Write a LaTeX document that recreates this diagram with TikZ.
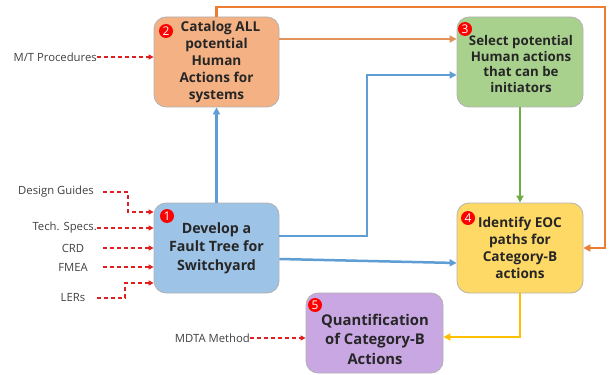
\documentclass[tikz,border=0pt]{standalone}
\usepackage{fontspec}
\setmainfont{Open Sans}
\usetikzlibrary{arrows.meta}
\definecolor{cOr}{HTML}{F4B183}
\definecolor{cGr}{HTML}{A9D18E}
\definecolor{cBl}{HTML}{9DC3E6}
\definecolor{cYe}{HTML}{FFD966}
\definecolor{cPu}{HTML}{C9A7E2}
\definecolor{lOr}{HTML}{ED7D31}
\definecolor{lOr2}{HTML}{E0925A}
\definecolor{lBl}{HTML}{5F9DD5}
\definecolor{lGr}{HTML}{70AD47}
\definecolor{lYe}{HTML}{FFC000}
\definecolor{lRd}{HTML}{E02020}
\definecolor{txtg}{HTML}{404040}
\tikzset{
  box/.style={draw=black!30, line width=0.8pt, rounded corners=12pt, align=center,
    font=\bfseries\fontsize{13.6}{17}\selectfont, text=black!85, inner sep=2pt},
  boxtext/.style={align=center, text=black!85, inner sep=0pt},
  badge/.style={circle, fill=red, text=white, inner sep=0pt, minimum size=14pt,
    font=\fontsize{12}{12}\selectfont},
  flow/.style={line width=2.5pt, -{Triangle[length=7pt,width=7pt]}},
  inp/.style={draw=lRd, line width=1.1pt, dash pattern=on 4pt off 3pt, -{Triangle[length=5pt,width=5pt]}},
  lab/.style={font=\fontsize{11.3}{13}\selectfont, text=txtg, inner sep=0pt},
}
\begin{document}
\begin{tikzpicture}[x=1pt,y=-1pt]
\useasboundingbox (0,0) rectangle (609,374);
% boxes
\node[box, fill=cOr, minimum width=125pt, minimum height=90pt] (b2) at (216.5,62)
  {\phantom{x}Catalog ALL\\potential\\Human\\Actions for\\systems};
\node[box, fill=cGr, minimum width=126pt, minimum height=90pt] (b3) at (520,62) {};
\node[boxtext, font=\bfseries\fontsize{13.3}{15.6}\selectfont] (t3) at (521,64)
  {Select potential\\Human actions\\that can be\\initiators};
\node[box, fill=cBl, minimum width=125pt, minimum height=90pt,
  font=\bfseries\fontsize{14.2}{18.5}\selectfont] (b1) at (216.5,248)
  {Develop a\\Fault Tree for\\Switchyard};
\node[box, fill=cYe, minimum width=126pt, minimum height=90pt] (b4) at (520,248)
  {Identify EOC\\paths for\\Category-B\\actions};
\node[box, fill=cPu, minimum width=137pt, minimum height=80pt] (b5) at (374.5,333) {};
\node[boxtext, font=\bfseries\fontsize{14.8}{19.5}\selectfont] (t5) at (375,339)
  {Quantification\\of Category-B\\Actions};
% badges
\node[badge] (n2) at (166,31) {2};
\node[badge] (n3) at (465,29) {3};
\node[badge] (n1) at (167,216) {1};
\node[badge] (n4) at (468,218) {4};
\node[badge] (n5) at (315,305) {5};
% flows
\draw[flow, draw=lOr] (b2.north) |- (605,7) |- (b4.east);
\draw[flow, draw=lOr2] (b2.east |- 0,39) -- (b3.west |- 0,39);
\draw[flow, draw=lBl] (b1.north) -- (b2.south);
\draw[flow, draw=lBl] (b1.east |- 0,236) -| (367,75) -- (b3.west |- 0,75);
\draw[flow, draw=lBl] (b1.east |- 0,259) -- (b4.west |- 0,263);
\draw[flow, draw=lGr] (b3.south) -- (b4.north);
\draw[flow, draw=lYe] (b4.south) |- (b5.east |- 0,337);
% inputs
\node[lab, anchor=east] (mt) at (97,57) {M/T Procedures};
\node[lab, anchor=east] (dg) at (94,192) {Design Guides};
\node[lab, anchor=east] (ts) at (97,228) {Tech. Specs.};
\node[lab] (crd) at (73,248) {CRD};
\node[lab] (fm) at (73,267) {FMEA};
\node[lab] (ler) at (73,298) {LERs};
\node[lab, anchor=east] (md) at (250,338) {MDTA Method};
\draw[inp] (mt.east) -- (b2.west |- mt.east);
\draw[inp] (103,192) -| (128,212) -- (b1.west |- 0,212);
\draw[inp] (ts.east) -- (b1.west |- ts.east);
\draw[inp] (103,248) -- (b1.west |- 0,248);
\draw[inp] (103,267) -- (b1.west |- 0,267);
\draw[inp] (97,298) -| (125,283) -- (b1.west |- 0,283);
\draw[inp] (md.east) -- (b5.west |- md.east);
\end{tikzpicture}
\end{document}
